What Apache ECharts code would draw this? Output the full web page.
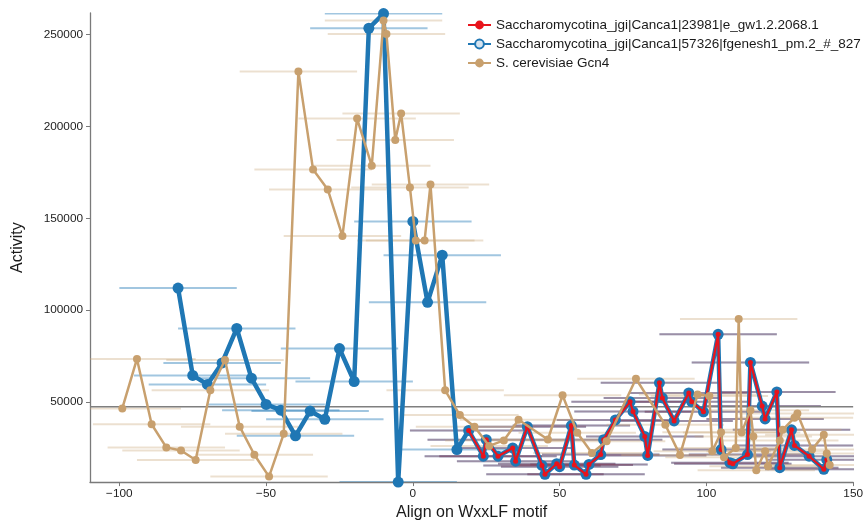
<!DOCTYPE html>
<html>
<head>
<meta charset="utf-8">
<script src="https://cdn.jsdelivr.net/npm/echarts@6/dist/echarts.min.js"></script>
<style>
  html, body { margin: 0; padding: 0; background: #fff; }
  #chart { width: 866px; height: 526px; }
</style>
</head>
<body>
<div id="chart"></div>
<script>
// Series names
const nameRed = 'Saccharomycotina_jgi|Canca1|23981|e_gw1.2.2068.1';
const nameBlue = 'Saccharomycotina_jgi|Canca1|57326|fgenesh1_pm.2_#_827';
const nameTan = 'S. cerevisiae Gcn4';

// Canca1 57326 (blue): position and activity
const blueX = [-80, -75, -70, -65, -60, -55, -50, -45, -40, -35, -30, -25, -20, -15, -10, -5, 0, 5, 10, 15,
  19, 24, 25, 29, 34, 35, 39, 44, 45, 49, 50, 54, 55, 59, 60, 64, 65, 69, 74, 75, 79, 80, 84, 85, 89,
  94, 95, 99, 104, 105, 108, 109, 114, 115, 119, 120, 124, 125, 129, 130, 135, 140, 141];
const blueY = [112000, 64400, 59500, 71200, 90000, 62900, 48600, 45500, 31500, 45000, 40500, 79000, 61100,
  253500, 261500, 6300, 148300, 104200, 129900, 24000,
  34400, 20400, 29400, 20400, 24900, 17700, 36500, 15400, 10550, 16300, 14700, 37100, 15600, 10550, 15900,
  21300, 29400, 40150, 50000, 44800, 31200, 20800, 60400, 52150, 39600, 54850, 50000, 44600, 86800, 24000,
  16850, 16300, 21300, 71500, 47700, 40700, 55400, 14150, 34750, 26300, 20400, 13300, 18500];

// Canca1 23981 (red): covers the C-terminal part, same windows
const redX = blueX.slice(20);
const redY = blueY.slice(20);

// S. cerevisiae Gcn4 (tan)
const tanX = [-99, -94, -89, -84, -79, -74, -69, -64, -59, -54, -49, -44, -39, -34, -29, -24, -19, -14,
  -10, -9, -6, -4, -1, 1, 4, 6, 11, 16, 21, 26, 31, 36, 46, 51, 56, 61, 66, 76, 86, 91, 97, 101, 102,
  105, 106, 110, 111, 112, 115, 116, 117, 120, 121, 125, 126, 130, 131, 136, 140, 141, 142];
const tanY = [46450, 73400, 37800, 25200, 23500, 18300, 56300, 72800, 36500, 21200, 9300, 32600,
  230000, 176500, 165700, 140300, 204300, 178600,
  257700, 250400, 192600, 207000, 166700, 137900, 137900, 168400,
  56300, 42800, 36500, 26000, 29000, 40300, 29500, 53600, 33200, 22200, 28500,
  62600, 37500, 21000, 54000, 53200, 23100, 33500, 19900, 24900, 95200, 33300,
  45500, 31200, 12700, 23100, 15000, 29000, 34800, 41400, 43700, 24000, 32100, 21900, 15600];

// half-width of each sliding window (horizontal bars)
const windowHalf = [20];
// reference activity level
const baseline = [47300];

// axis ranges and ticks
const xRange = [-110, 150];
const yRange = [6300, 261800];
const xTicks = [-100, -50, 0, 50, 100, 150];
const yTicks = [50000, 100000, 150000, 200000, 250000];

const pairs = (xs, ys) => xs.map((x, i) => [x, ys[i]]);
const minus = v => (v < 0 ? '\u2212' + Math.abs(v) : String(v));

const FONT = '"Liberation Sans", Arial, Helvetica, sans-serif';

function windowBars(name, xs, ys, color, z) {
  return {
    type: 'custom',
    name: name + ' window',
    clip: true,
    silent: true,
    z: z,
    data: pairs(xs, ys),
    renderItem: function (params, api) {
      const x = api.value(0), y = api.value(1);
      const a = api.coord([x - windowHalf[0], y]);
      const b = api.coord([x + windowHalf[0], y]);
      return {
        type: 'line',
        shape: { x1: a[0], y1: a[1], x2: b[0], y2: b[1] },
        style: { stroke: color, lineWidth: 2 }
      };
    }
  };
}

const blue = '#1f77b4';
const red = '#e8141c';
const tan = '#c8a06e';

const chart = echarts.init(document.getElementById('chart'), null, { renderer: 'canvas' });
chart.setOption({
  animation: false,
  backgroundColor: '#fff',
  textStyle: { fontFamily: FONT },
  grid: { left: 90, right: 8, top: 13, bottom: 38, containLabel: false },
  legend: {
    orient: 'vertical',
    left: 462,
    top: 13,
    itemWidth: 23,
    itemHeight: 11,
    itemGap: 5,
    textStyle: { fontFamily: FONT, fontSize: 13.5, color: '#1a1a1a' },
    data: [
      { name: nameRed },
      { name: nameBlue, itemStyle: { color: '#d6e4f0', borderColor: blue, borderWidth: 2 } },
      { name: nameTan }
    ]
  },
  xAxis: {
    type: 'value',
    min: xRange[0],
    max: xRange[1],
    name: 'Align on WxxLF motif',
    nameLocation: 'middle',
    nameGap: 20,
    nameTextStyle: { fontFamily: FONT, fontSize: 16, color: '#1a1a1a' },
    splitLine: { show: false },
    axisLine: { onZero: false, lineStyle: { color: '#7a7a7a', width: 1.3 } },
    axisTick: { show: true, length: 4, customValues: xTicks, lineStyle: { color: '#7a7a7a' } },
    axisLabel: { customValues: xTicks, formatter: minus, fontSize: 11.8, color: '#222', margin: 6, fontFamily: FONT }
  },
  yAxis: {
    type: 'value',
    min: yRange[0],
    max: yRange[1],
    name: 'Activity',
    nameLocation: 'middle',
    nameGap: 64,
    nameTextStyle: { fontFamily: FONT, fontSize: 16, color: '#1a1a1a' },
    splitLine: { show: false },
    axisLine: { show: true, onZero: false, lineStyle: { color: '#7a7a7a', width: 1.3 } },
    axisTick: { show: true, length: 4, customValues: yTicks, lineStyle: { color: '#7a7a7a' } },
    axisLabel: { customValues: yTicks, formatter: v => String(v), fontSize: 11.8, color: '#222', margin: 7, fontFamily: FONT }
  },
  series: [
    windowBars(nameBlue, blueX, blueY, 'rgba(31,119,180,0.42)', 1),
    windowBars(nameRed, redX, redY, 'rgba(150,60,80,0.4)', 1),
    windowBars(nameTan, tanX, tanY, 'rgba(200,165,120,0.35)', 1),
    {
      type: 'line',
      name: 'baseline',
      silent: true,
      z: 2,
      showSymbol: false,
      data: [[xRange[0], baseline[0]], [xRange[1], baseline[0]]],
      lineStyle: { color: '#7f7f7f', width: 1.6 }
    },
    {
      type: 'line',
      name: nameBlue,
      z: 3,
      data: pairs(blueX, blueY),
      symbol: 'circle',
      symbolSize: 11,
      showAllSymbol: true,
      itemStyle: { color: blue },
      lineStyle: { color: blue, width: 4.5 }
    },
    {
      type: 'line',
      name: nameRed,
      z: 4,
      data: pairs(redX, redY),
      symbol: 'circle',
      symbolSize: 5,
      showAllSymbol: true,
      itemStyle: { color: red },
      lineStyle: { color: red, width: 2.2 }
    },
    {
      type: 'line',
      name: nameTan,
      z: 5,
      data: pairs(tanX, tanY),
      symbol: 'circle',
      symbolSize: 8,
      showAllSymbol: true,
      itemStyle: { color: tan },
      lineStyle: { color: tan, width: 2.5 }
    }
  ]
});
</script>
</body>
</html>
